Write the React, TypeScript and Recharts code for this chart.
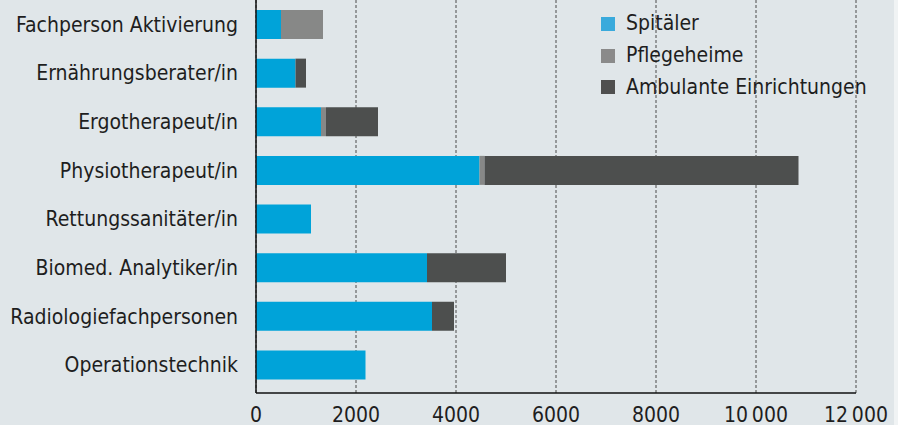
import React from 'react';
import { BarChart, Bar, XAxis, YAxis, CartesianGrid } from 'recharts';

const categories = [
  'Fachperson Aktivierung',
  'Ernährungsberater/in',
  'Ergotherapeut/in',
  'Physiotherapeut/in',
  'Rettungssanitäter/in',
  'Biomed. Analytiker/in',
  'Radiologiefachpersonen',
  'Operationstechnik',
];
const spitaeler = [500, 790, 1300, 4470, 1100, 3420, 3520, 2190];
const pflegeheime = [840, 0, 100, 100, 0, 0, 0, 0];
const ambulant = [0, 210, 1040, 6280, 0, 1580, 440, 0];
const xTicks = [0, 2000, 4000, 6000, 8000, 10000, 12000];
const seriesNames = ['Spitäler', 'Pflegeheime', 'Ambulante Einrichtungen'];

const COLORS = ['#00a3d9', '#878887', '#4d4f4e'];
const LEGEND_COLORS = ['#3aaadc', '#8a8a8a', '#4f4f4f'];
const FONT = "'Liberation Sans Narrow', 'DejaVu Sans Condensed', Roboto, sans-serif";

const data = categories.map((name, i) => ({
  name,
  s: spitaeler[i],
  p: pflegeheime[i],
  a: ambulant[i],
}));

const fmt = (v: number) => {
  const s = String(v);
  if (v >= 10000) return s.slice(0, s.length - 3) + '\u2009' + s.slice(-3);
  return s;
};

const LegendBox = () => (
  <div
    style={{
      position: 'absolute',
      left: 601,
      top: 8,
      fontFamily: FONT,
      fontSize: 21,
      color: '#1e1e1e',
      pointerEvents: 'none',
    }}
  >
    {seriesNames.map((n, i) => (
      <div key={n} style={{ display: 'flex', alignItems: 'center', height: 31.7 }}>
        <div style={{ width: 14, height: 14, background: LEGEND_COLORS[i], marginRight: 11 }} />
        <span style={{ lineHeight: '21px', whiteSpace: 'nowrap' }}>{n}</span>
      </div>
    ))}
  </div>
);

export default function App() {
  return (
    <div
      style={{
        position: 'absolute',
        left: 0,
        top: 0,
        width: 898,
        height: 425,
        background: '#f0f3f4',
      }}
    >
      <div style={{ position: 'absolute', left: 0, top: 0, width: 894, height: 425, background: '#e0e6e9' }} />
      <div style={{ position: 'absolute', left: 0, top: 0 }}>
        <BarChart
          width={898}
          height={425}
          data={data}
          layout="vertical"
          margin={{ top: 0, right: 42, bottom: 0, left: 0 }}
          barSize={29}
        >
          <CartesianGrid
            horizontal={false}
            vertical
            stroke="#4a4a4a"
            strokeDasharray="3 2"
          />
          <XAxis
            type="number"
            domain={[0, 12000]}
            ticks={xTicks}
            tickFormatter={fmt}
            height={32}
            tickLine={false}
            tickMargin={8}
            axisLine={{ stroke: '#111', strokeWidth: 1.5 }}
            tick={{ fill: '#1e1e1e', fontSize: 21, fontFamily: FONT }}
            interval={0}
          />
          <YAxis
            type="category"
            dataKey="name"
            width={256}
            tickLine={false}
            tickMargin={12}
            axisLine={{ stroke: '#111', strokeWidth: 1.5 }}
            tick={{ fill: '#1e1e1e', fontSize: 21, fontFamily: FONT }}
            padding={{ top: 0, bottom: 4 }}
            interval={0}
          />
          <Bar dataKey="s" name={seriesNames[0]} stackId="x" fill={COLORS[0]} isAnimationActive={false} />
          <Bar dataKey="p" name={seriesNames[1]} stackId="x" fill={COLORS[1]} isAnimationActive={false} />
          <Bar dataKey="a" name={seriesNames[2]} stackId="x" fill={COLORS[2]} isAnimationActive={false} />
        </BarChart>
      </div>
      <LegendBox />
    </div>
  );
}
